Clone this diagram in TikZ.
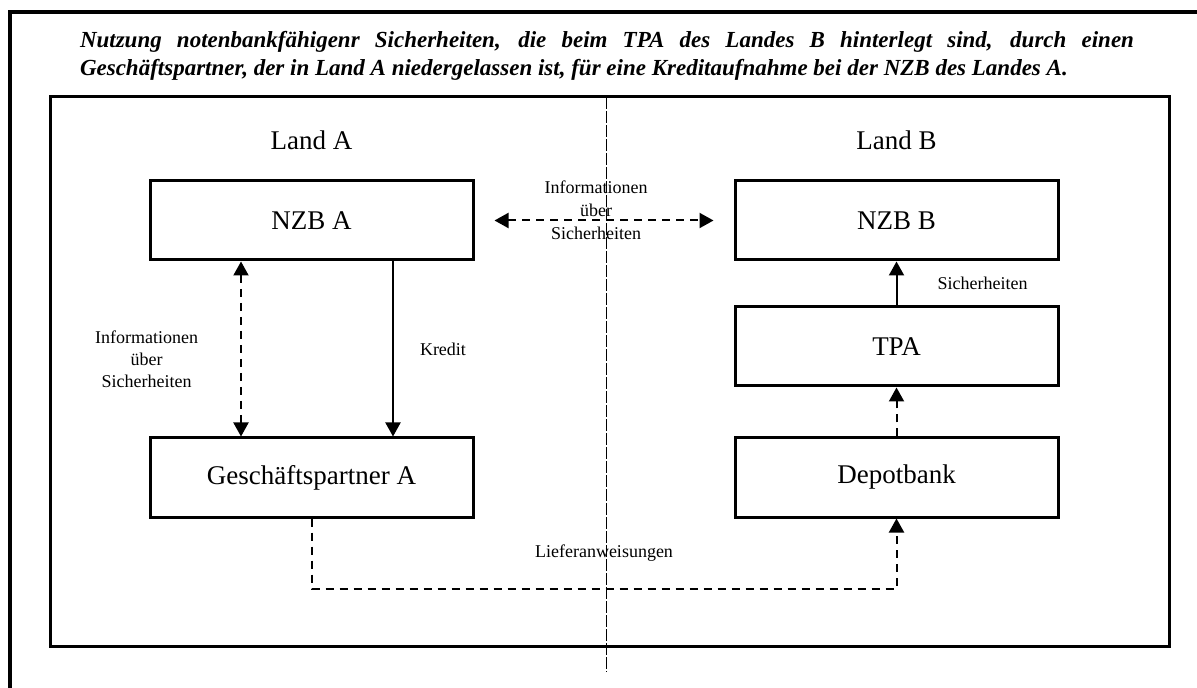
\documentclass[tikz,border=0pt]{standalone}
\usepackage{fontspec}
\setmainfont{Liberation Serif}
\usetikzlibrary{arrows.meta,positioning}
\begin{document}
\begin{tikzpicture}[x=0.5pt, y=-0.5pt, >={Triangle[length=7pt,width=7.5pt]}, line join=miter]
        \tikzstyle{box}=[draw, line width=1.5pt, minimum width=161.5pt, minimum height=39.5pt, font=\fontsize{13.5}{16}\selectfont]
        \tikzstyle{land}=[font=\fontsize{13.5}{16}\selectfont]
        \tikzstyle{small}=[align=center, inner sep=0pt, font=\fontsize{9}{11}\selectfont]
        \tikzstyle{link}=[line width=1pt]
        \tikzstyle{dashlink}=[line width=1pt, dash pattern=on 4pt off 3pt]

        \useasboundingbox (0,0) rectangle (1197,688);

        % frames and divider
        \draw[line width=2pt] (10,688) -- (10,12) -- (1197,12);
        \draw[line width=1.5pt] (50,97) rectangle (1169,646);
        \draw[line width=0.5pt, dash pattern=on 6pt off 1pt] (606,97) -- (606,672);

        \node[text width=527pt, align=justify, inner sep=0pt, font=\fontsize{11.5}{14}\selectfont\bfseries\itshape](title) at (607,56){Nutzung notenbankfähigenr Sicherheiten, die beim TPA des Landes B hinterlegt sind, durch einen\linebreak Geschäftspartner, der in Land A niedergelassen ist, für eine Kreditaufnahme bei der NZB des Landes A.};

        \node[land](landA) at (311.5,140){Land A};
        \node[land](landB) at (896.5,140){Land B};

        \node[box](nzbA) at (311.5,220.5){NZB A};
        \node[box](gpA) at (311.5,477.5){Geschäftspartner A};
        \node[box](nzbB) at (896.5,220.5){NZB B};
        \node[box](tpa) at (896.5,346.5){TPA};
        \node[box](depot) at (896.5,477.5){Depotbank};

        \draw[dashlink,<->] ([xshift=-35.25pt]nzbA.south) -- ([xshift=-35.25pt]gpA.north) node[small, midway, left=21pt, yshift=-5pt](infoA){Informationen\\über\\Sicherheiten};
        \draw[link,->] ([xshift=40.75pt]nzbA.south) -- ([xshift=40.75pt]gpA.north) node[small, midway, right=13pt](kredit){Kredit};
        \draw[dashlink,<->,shorten <=10pt,shorten >=10pt] (nzbA) -- (nzbB) node[small, midway, xshift=-4pt, yshift=5pt, font=\fontsize{9}{11.5}\selectfont](infoAB){Informationen\\über\\Sicherheiten};
        \draw[link,->] (tpa) -- (nzbB) node[small, midway, right=20pt](sichB){Sicherheiten};
        \draw[dashlink,->] (depot) -- (tpa);
        \draw[dashlink,->] (gpA.south) -- ++(0,70) -| (depot.south) node[small, pos=0.25, above=13pt](liefer){Lieferanweisungen};

\end{tikzpicture}
\end{document}
